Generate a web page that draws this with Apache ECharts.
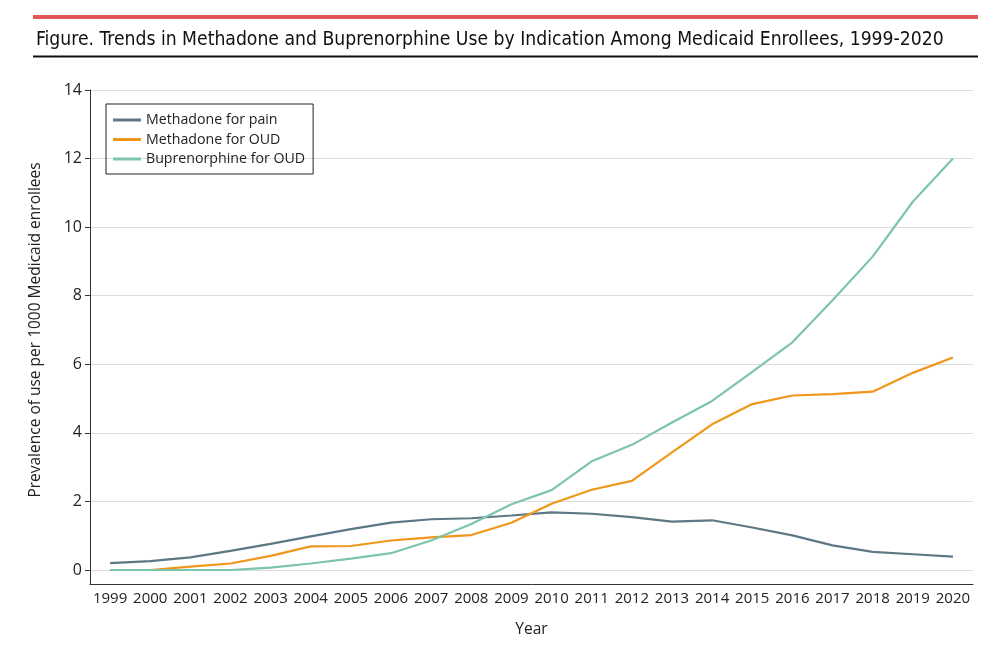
<!DOCTYPE html>
<html>
<head>
<meta charset="utf-8">
<script src="https://cdn.jsdelivr.net/npm/echarts@6/dist/echarts.min.js"></script>
<style>
html,body{margin:0;padding:0;background:#fff;}
#c{width:1000px;height:668px;}
</style>
</head>
<body>
<div id="c"></div>
<script>
const years = ['1999','2000','2001','2002','2003','2004','2005','2006','2007','2008','2009','2010','2011','2012','2013','2014','2015','2016','2017','2018','2019','2020'];
const methadonePain = [0.20,0.26,0.37,0.56,0.76,0.98,1.19,1.38,1.48,1.51,1.59,1.68,1.64,1.54,1.41,1.45,1.24,1.01,0.72,0.53,0.46,0.39];
const methadoneOUD = [0,0,0.10,0.19,0.41,0.69,0.70,0.86,0.95,1.02,1.38,1.93,2.34,2.60,3.43,4.25,4.84,5.09,5.13,5.20,5.75,6.20];
const buprenorphineOUD = [0,0,0,0,0.07,0.19,0.33,0.49,0.86,1.34,1.92,2.33,3.17,3.65,4.30,4.93,5.78,6.64,7.87,9.14,10.74,12.00];
const yTicks = {min:0,max:14,interval:2};
const seriesNames = ['Methadone for pain','Methadone for OUD','Buprenorphine for OUD'];
const colors = ['#5e7785','#f0961a','#7cc5aa'];

const chart = echarts.init(document.getElementById('c'), null, {renderer:'canvas'});
const font = "'Open Sans', 'Liberation Sans', sans-serif";
chart.setOption({
  animation:false,
  backgroundColor:'#fff',
  title:{
    text:'Figure. Trends in Methadone and Buprenorphine Use by Indication Among Medicaid Enrollees, 1999-2020',
    left:31, top:26,
    textStyle:{fontFamily:"'DejaVu Sans Condensed','Liberation Sans Narrow',sans-serif",fontSize:19.2,fontWeight:'normal',color:'#111'}
  },
  graphic:[
    {type:'rect',shape:{x:33,y:15,width:945,height:4},style:{fill:'#e05654'}},
    {type:'rect',shape:{x:33,y:55.5,width:945,height:2},style:{fill:'#111'}}
  ],
  legend:{
    orient:'vertical', left:106, top:104,
    data:seriesNames.map(n=>({name:n,icon:'rect'})),
    itemWidth:28, itemHeight:3, itemGap:5.5,
    padding:[9,8,8,7],
    borderColor:'#222', borderWidth:1, borderRadius:0,
    textStyle:{fontFamily:font,fontSize:14.2,color:'#222'}
  },
  grid:[
    {left:90,right:27,top:90,height:480},
    {left:90,right:27,top:90,height:494}
  ],
  xAxis:[
    {type:'category',gridIndex:0,data:years,boundaryGap:true,show:false},
    {type:'category',gridIndex:1,data:years,boundaryGap:true,
     axisLine:{lineStyle:{color:'#333',width:1}},
     axisTick:{alignWithLabel:true,length:6,lineStyle:{color:'#333'}},
     axisLabel:{fontFamily:font,fontSize:15,color:'#222',margin:7,interval:0},
     name:'Year',nameLocation:'middle',nameGap:38,
     nameTextStyle:{fontFamily:font,fontSize:15.5,color:'#222'}},
  ],
  yAxis:[
    {type:'value',gridIndex:0,min:yTicks.min,max:yTicks.max,interval:yTicks.interval,
     axisLine:{show:false},
     axisTick:{show:true,length:5,lineStyle:{color:'#333'}},
     axisLabel:{fontFamily:font,fontSize:16,color:'#222',margin:8},
     splitLine:{lineStyle:{color:'#dcdcdc',width:1}},
     name:'Prevalence of use per 1000 Medicaid enrollees',nameLocation:'middle',nameGap:46,
     nameTextStyle:{fontFamily:font,fontSize:15.5,color:'#222'}},
    {type:'value',gridIndex:1,min:0,max:1,
     axisLine:{show:true,lineStyle:{color:'#333',width:1}},
     axisTick:{show:false},axisLabel:{show:false},splitLine:{show:false}}
  ],
  series:[
    {name:seriesNames[0],type:'line',xAxisIndex:0,yAxisIndex:0,data:methadonePain,symbol:'none',lineStyle:{width:2.2,color:colors[0]},itemStyle:{color:colors[0]}},
    {name:seriesNames[1],type:'line',xAxisIndex:0,yAxisIndex:0,data:methadoneOUD,symbol:'none',lineStyle:{width:2.2,color:colors[1]},itemStyle:{color:colors[1]}},
    {name:seriesNames[2],type:'line',xAxisIndex:0,yAxisIndex:0,data:buprenorphineOUD,symbol:'none',lineStyle:{width:2.2,color:colors[2]},itemStyle:{color:colors[2]}}
  ]
});
</script>
</body>
</html>
